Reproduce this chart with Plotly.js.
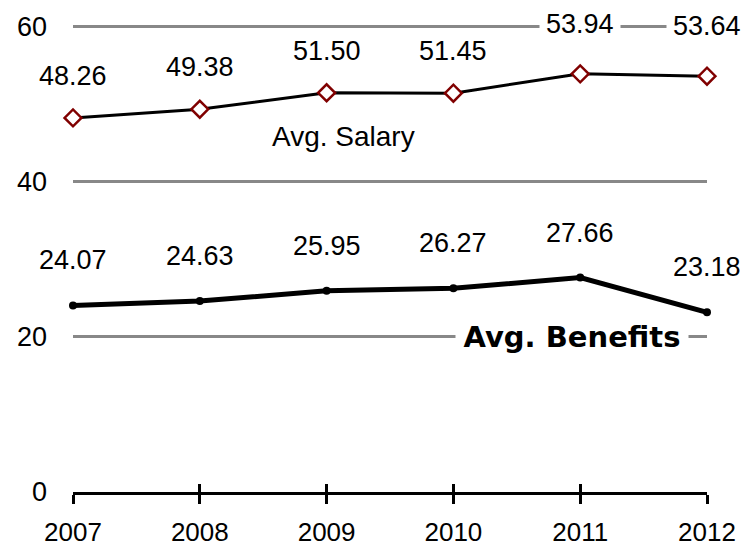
<!DOCTYPE html>
<html>
<head>
<meta charset="utf-8">
<script src="https://cdn.plot.ly/plotly-3.0.1.min.js"></script>
<style>html,body{margin:0;padding:0;background:#fff;}#chart{width:749px;height:551px;}</style>
</head>
<body>
<div id="chart"></div>
<script>
const years = [2007, 2008, 2009, 2010, 2011, 2012];
const yearLabels = ["2007", "2008", "2009", "2010", "2011", "2012"];
const salary = [48.26, 49.38, 51.50, 51.45, 53.94, 53.64];
const benefits = [24.07, 24.63, 25.95, 26.27, 27.66, 23.18];
const salaryLabels = ["48.26", "49.38", "51.50", "51.45", "53.94", "53.64"];
const benefitLabels = ["24.07", "24.63", "25.95", "26.27", "27.66", "23.18"];
const yTicks = [0, 20, 40, 60];
const yTickLabels = ["0", "20", "40", "60"];

const FONT = "Liberation Sans, Arial, sans-serif";

const traces = [
  {
    x: years, y: benefits, type: 'scatter', mode: 'lines+markers',
    line: {color: '#000', width: 5},
    marker: {symbol: 'circle', size: 8, color: '#000'},
    cliponaxis: false, hoverinfo: 'none', showlegend: false
  },
  {
    x: years, y: salary, type: 'scatter', mode: 'lines+markers',
    line: {color: '#000', width: 3},
    marker: {symbol: 'diamond', size: 13, color: '#fff', line: {color: '#800000', width: 2.5}},
    cliponaxis: false, hoverinfo: 'none', showlegend: false
  },
  {
    x: years, y: benefits, xaxis: 'x2', type: 'scatter', mode: 'none',
    hoverinfo: 'none', showlegend: false
  }
];

const annotations = [];
years.forEach((yr, i) => {
  annotations.push({
    x: yr, y: salary[i], xref: 'x', yref: 'y', text: salaryLabels[i],
    showarrow: false, yshift: (i >= 4 ? 50 : 42), bgcolor: '#fff', borderpad: 6,
    font: {family: FONT, size: 27, color: '#000'}
  });
  annotations.push({
    x: yr, y: benefits[i], xref: 'x', yref: 'y', text: benefitLabels[i],
    showarrow: false, yshift: 45,
    font: {family: FONT, size: 27, color: '#000'}
  });
});
annotations.push({
  x: 2009.13, y: 45.8, xref: 'x', yref: 'y', text: 'Avg. Salary',
  showarrow: false, font: {family: FONT, size: 28, color: '#000'}
});
annotations.push({
  x: 2010.935, y: 20, xref: 'x', yref: 'y', text: '<b>Avg. Benefits</b>',
  showarrow: false, bgcolor: '#fff', borderpad: 0, width: 232, height: 34,
  font: {family: "DejaVu Sans, sans-serif", size: 29, color: '#000'}
});

const layout = {
  width: 749, height: 551,
  margin: {l: 73, r: 42, t: 23, b: 59},
  paper_bgcolor: '#fff', plot_bgcolor: '#fff',
  font: {family: FONT, color: '#000'},
  xaxis: {
    range: [2007, 2012], tickvals: years, ticktext: yearLabels,
    showgrid: false, zeroline: false,
    showline: true, linecolor: '#000', linewidth: 3,
    ticks: 'outside', ticklen: 9, tickwidth: 3, tickcolor: '#000',
    tickfont: {family: FONT, size: 26, color: '#000'},
    ticklabelstandoff: 6
  },
  xaxis2: {
    range: [2007, 2012], tickvals: years, overlaying: 'x', anchor: 'y',
    showgrid: false, zeroline: false, showline: false,
    ticks: 'inside', ticklen: 8, tickwidth: 3, tickcolor: '#000',
    showticklabels: false, side: 'bottom'
  },
  yaxis: {
    range: [0, 60.5], tickvals: yTicks, ticktext: yTickLabels,
    showgrid: true, gridcolor: '#888', gridwidth: 3,
    zeroline: false, showline: false, ticks: '',
    tickfont: {family: FONT, size: 27, color: '#000'},
    ticklabelstandoff: 25
  },
  annotations: annotations,
  showlegend: false
};

Plotly.newPlot('chart', traces, layout, {displayModeBar: false, staticPlot: true});
</script>
</body>
</html>
